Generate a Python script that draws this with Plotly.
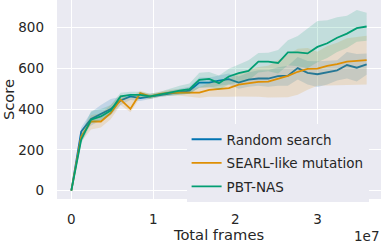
import plotly.graph_objects as go

step = 1.2e6
n = 31
frames = [i * step for i in range(n)]

rs_mean = [0, 290, 351, 375, 400, 442, 462, 454, 462, 470, 478, 486, 491, 530, 530, 540,
           547, 530, 545, 550, 550, 562, 564, 601, 578, 571, 579, 590, 616, 603, 619]
rs_low = [0, 270, 320, 345, 370, 420, 445, 440, 450, 460, 465, 470, 475, 505, 505, 515,
          520, 500, 510, 515, 510, 515, 515, 545, 520, 508, 520, 540, 550, 535, 568]
rs_high = [0, 310, 385, 420, 450, 460, 475, 470, 475, 480, 490, 500, 510, 555, 555, 565,
           575, 560, 580, 590, 590, 605, 612, 655, 636, 634, 638, 640, 680, 670, 672]

searl_mean = [0, 265, 339, 339, 380, 446, 401, 478, 462, 475, 480, 481, 481, 481, 494, 498,
              503, 520, 527, 533, 535, 548, 563, 583, 597, 598, 612, 621, 633, 636, 640]
searl_low = [0, 240, 300, 310, 350, 420, 385, 455, 450, 460, 465, 465, 460, 455, 460, 460,
             460, 462, 462, 460, 457, 457, 458, 470, 495, 515, 515, 517, 518, 519, 520]
searl_high = [0, 290, 370, 380, 420, 470, 455, 490, 475, 485, 495, 497, 502, 507, 528, 536,
              546, 578, 592, 606, 613, 639, 668, 696, 699, 681, 709, 725, 748, 753, 760]

pbt_mean = [0, 250, 348, 364, 393, 462, 470, 470, 462, 470, 481, 490, 498, 543, 548, 527,
            560, 576, 587, 633, 633, 626, 678, 678, 673, 705, 723, 750, 770, 797, 805]
pbt_low = [0, 230, 330, 345, 375, 445, 455, 455, 450, 460, 465, 470, 475, 505, 510, 495,
           520, 530, 540, 580, 585, 575, 615, 610, 600, 630, 650, 680, 700, 730, 735]
pbt_high = [0, 280, 390, 400, 420, 480, 485, 485, 475, 485, 500, 515, 525, 578, 582, 565,
            598, 620, 640, 675, 676, 690, 738, 758, 795, 832, 836, 850, 858, 886, 873]

names = ["Random search", "SEARL-like mutation", "PBT-NAS"]
colors = ["#0173b2", "#de8f05", "#029e73"]
fills = ["rgba(1,115,178,0.17)", "rgba(222,143,5,0.17)", "rgba(2,158,115,0.17)"]
series = [(rs_mean, rs_low, rs_high), (searl_mean, searl_low, searl_high),
          (pbt_mean, pbt_low, pbt_high)]

xticks = [0, 1e7, 2e7, 3e7]
xticktext = ["0", "1", "2", "3"]
yticks = [0, 200, 400, 600, 800]

FONT = "DejaVu Sans"
TXT = "#262626"

fig = go.Figure()
for name, col, fc, (m, lo, hi) in zip(names, colors, fills, series):
    fig.add_trace(go.Scatter(
        x=frames + frames[::-1], y=hi + lo[::-1], fill="toself", fillcolor=fc,
        line=dict(width=0), mode="lines", hoverinfo="skip", showlegend=False,
        legendgroup=name))
    fig.add_trace(go.Scatter(
        x=frames, y=m, mode="lines", name=name, legendgroup=name,
        line=dict(color=col, width=1.8)))

fig.update_layout(
    width=382, height=244,
    margin=dict(l=57, r=1, t=0, b=45),
    paper_bgcolor="white", plot_bgcolor="#eaeaf2",
    font=dict(family=FONT, size=13.5, color=TXT),
    showlegend=True,
    legend=dict(x=0.40, y=0.377, xanchor="left", yanchor="top",
                bgcolor="#eaeaf2", borderwidth=0, tracegroupgap=3,
                font=dict(family=FONT, size=13.5, color=TXT)),
    xaxis=dict(range=[-0.175e7, 3.775e7], tickvals=xticks, ticktext=xticktext,
               showgrid=True, gridcolor="white", gridwidth=1.2, zeroline=False,
               showline=False, ticks="", ticklabelstandoff=10,
               title=dict(text="Total frames", font=dict(size=14.7), standoff=2)),
    yaxis=dict(range=[-41, 935], tickvals=yticks,
               showgrid=True, gridcolor="white", gridwidth=1.2, zeroline=False,
               showline=False, ticks="", ticklabelstandoff=12,
               title=dict(text="Score", font=dict(size=14.7), standoff=4)),
    annotations=[dict(text="1e7", x=1, y=0, xref="paper", yref="paper",
                      xanchor="right", yanchor="top", yshift=-27, showarrow=False,
                      font=dict(family=FONT, size=13.5, color=TXT))],
)

fig.write_html("out.html", config={"displayModeBar": False},
               post_script="document.body.style.margin='0';")
